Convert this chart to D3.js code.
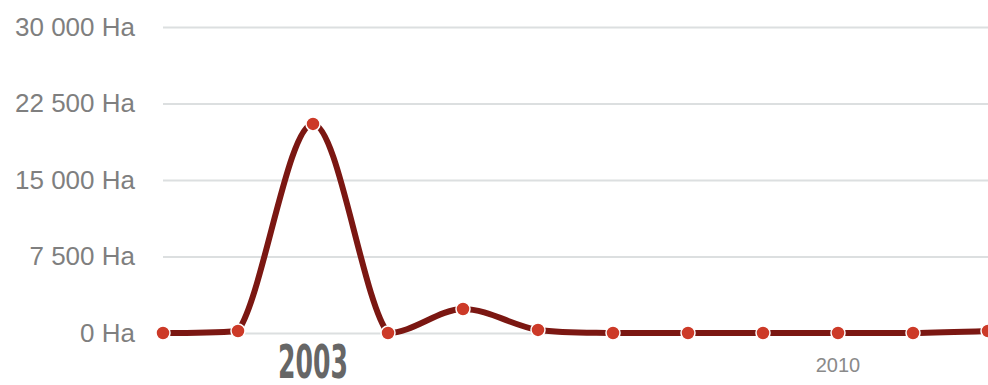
<!DOCTYPE html>
<html>
<head>
<meta charset="utf-8">
<script src="https://cdn.jsdelivr.net/npm/d3@7"></script>
<style>
  body { margin: 0; background: #fff; }
  svg { display: block; }
</style>
</head>
<body>
<div id="drawing_region"></div>
<script>
// surface brûlée par année (Ha)
var years = [2001, 2002, 2003, 2004, 2005, 2006, 2007, 2008, 2009, 2010, 2011, 2012];
var values = [0, 200, 20500, 0, 2350, 300, 0, 0, 0, 0, 0, 200];
var yTicks = [0, 7500, 15000, 22500, 30000];
var highlightYear = 2003;
var labelYear = 2010;

var data = years.map(function (y, i) { return { year: y, value: values[i] }; });

var width = 988;
var height = 385;
var margin = { top: 27, right: 0, bottom: 52, left: 163 };

var svg = d3.select("#drawing_region")
    .append("svg")
    .attr("width", width)
    .attr("height", height);

var xScale = d3.scaleLinear()
    .domain([2001, 2012])
    .range([margin.left, width - margin.right]);

var yScale = d3.scaleLinear()
    .domain([0, 30000])
    .range([height - margin.bottom, margin.top]);

var fmt = function (d) { return d3.format(",")(d).replace(/,/g, " ") + " Ha"; };

// grille horizontale
var yAxis = svg.append("g")
    .attr("transform", "translate(" + margin.left + ",0)")
    .call(d3.axisLeft(yScale)
        .tickValues(yTicks)
        .tickSize(-(width - margin.left - margin.right))
        .tickPadding(28)
        .tickFormat(fmt));

yAxis.select(".domain").remove();
yAxis.selectAll(".tick line")
    .attr("stroke", "#dcdfe0")
    .attr("stroke-width", 2);
yAxis.selectAll(".tick text")
    .attr("fill", "#7f7f7f")
    .style("font-family", "'Liberation Sans', Arial, sans-serif")
    .style("font-size", "26px");

// spline : points de contrôle alignés, chaque côté borné séparément
// (pas de faux extrêmes, quitte à faire un angle sous le point)
function splinePath(pts) {
    var p = d3.path();
    var smoothing = 2, denom = smoothing + 1;
    var conts = pts.map(function (pt, i) {
        var last = pts[i - 1], next = pts[i + 1];
        if (!last || !next) return null;
        var lx = (smoothing * pt[0] + last[0]) / denom,
            ly = (smoothing * pt[1] + last[1]) / denom,
            rx = (smoothing * pt[0] + next[0]) / denom,
            ry = (smoothing * pt[1] + next[1]) / denom;
        var corr = 0;
        if (rx !== lx) corr = ((ry - ly) * (rx - pt[0])) / (rx - lx) + pt[1] - ry;
        ly += corr; ry += corr;
        if (ly > last[1] && ly > pt[1]) ly = Math.max(last[1], pt[1]);
        else if (ly < last[1] && ly < pt[1]) ly = Math.min(last[1], pt[1]);
        if (ry > next[1] && ry > pt[1]) ry = Math.max(next[1], pt[1]);
        else if (ry < next[1] && ry < pt[1]) ry = Math.min(next[1], pt[1]);
        return { lx: lx, ly: ly, rx: rx, ry: ry };
    });
    p.moveTo(pts[0][0], pts[0][1]);
    for (var i = 1; i < pts.length; i++) {
        var a = conts[i - 1], b = conts[i];
        var c1 = a ? [a.rx, a.ry] : pts[i - 1];
        var c2 = b ? [b.lx, b.ly] : pts[i];
        p.bezierCurveTo(c1[0], c1[1], c2[0], c2[1], pts[i][0], pts[i][1]);
    }
    return p.toString();
}

var pts = data.map(function (d) { return [xScale(d.year), yScale(d.value)]; });

svg.append("path")
    .attr("fill", "none")
    .attr("stroke", "#7b1712")
    .attr("stroke-width", 6)
    .attr("stroke-linejoin", "round")
    .attr("d", splinePath(pts));

svg.append("g")
    .selectAll("circle")
    .data(data)
    .enter()
    .append("circle")
    .attr("cx", function (d) { return xScale(d.year); })
    .attr("cy", function (d) { return yScale(d.value); })
    .attr("r", 7)
    .attr("fill", "#cc3a28")
    .attr("stroke", "#fff")
    .attr("stroke-width", 1.5);

// années
svg.append("text")
    .attr("x", xScale(highlightYear))
    .attr("y", 378)
    .attr("text-anchor", "middle")
    .attr("textLength", 70)
    .attr("lengthAdjust", "spacingAndGlyphs")
    .attr("fill", "#666")
    .style("font-family", "'Liberation Sans Narrow', 'DejaVu Sans Condensed', sans-serif")
    .style("font-weight", "bold")
    .style("font-size", "46px")
    .text(highlightYear);

svg.append("text")
    .attr("x", xScale(labelYear))
    .attr("y", 372)
    .attr("text-anchor", "middle")
    .attr("fill", "#8a8a8a")
    .style("font-family", "'Liberation Sans', Arial, sans-serif")
    .style("font-size", "20px")
    .text(labelYear);
</script>
</body>
</html>
